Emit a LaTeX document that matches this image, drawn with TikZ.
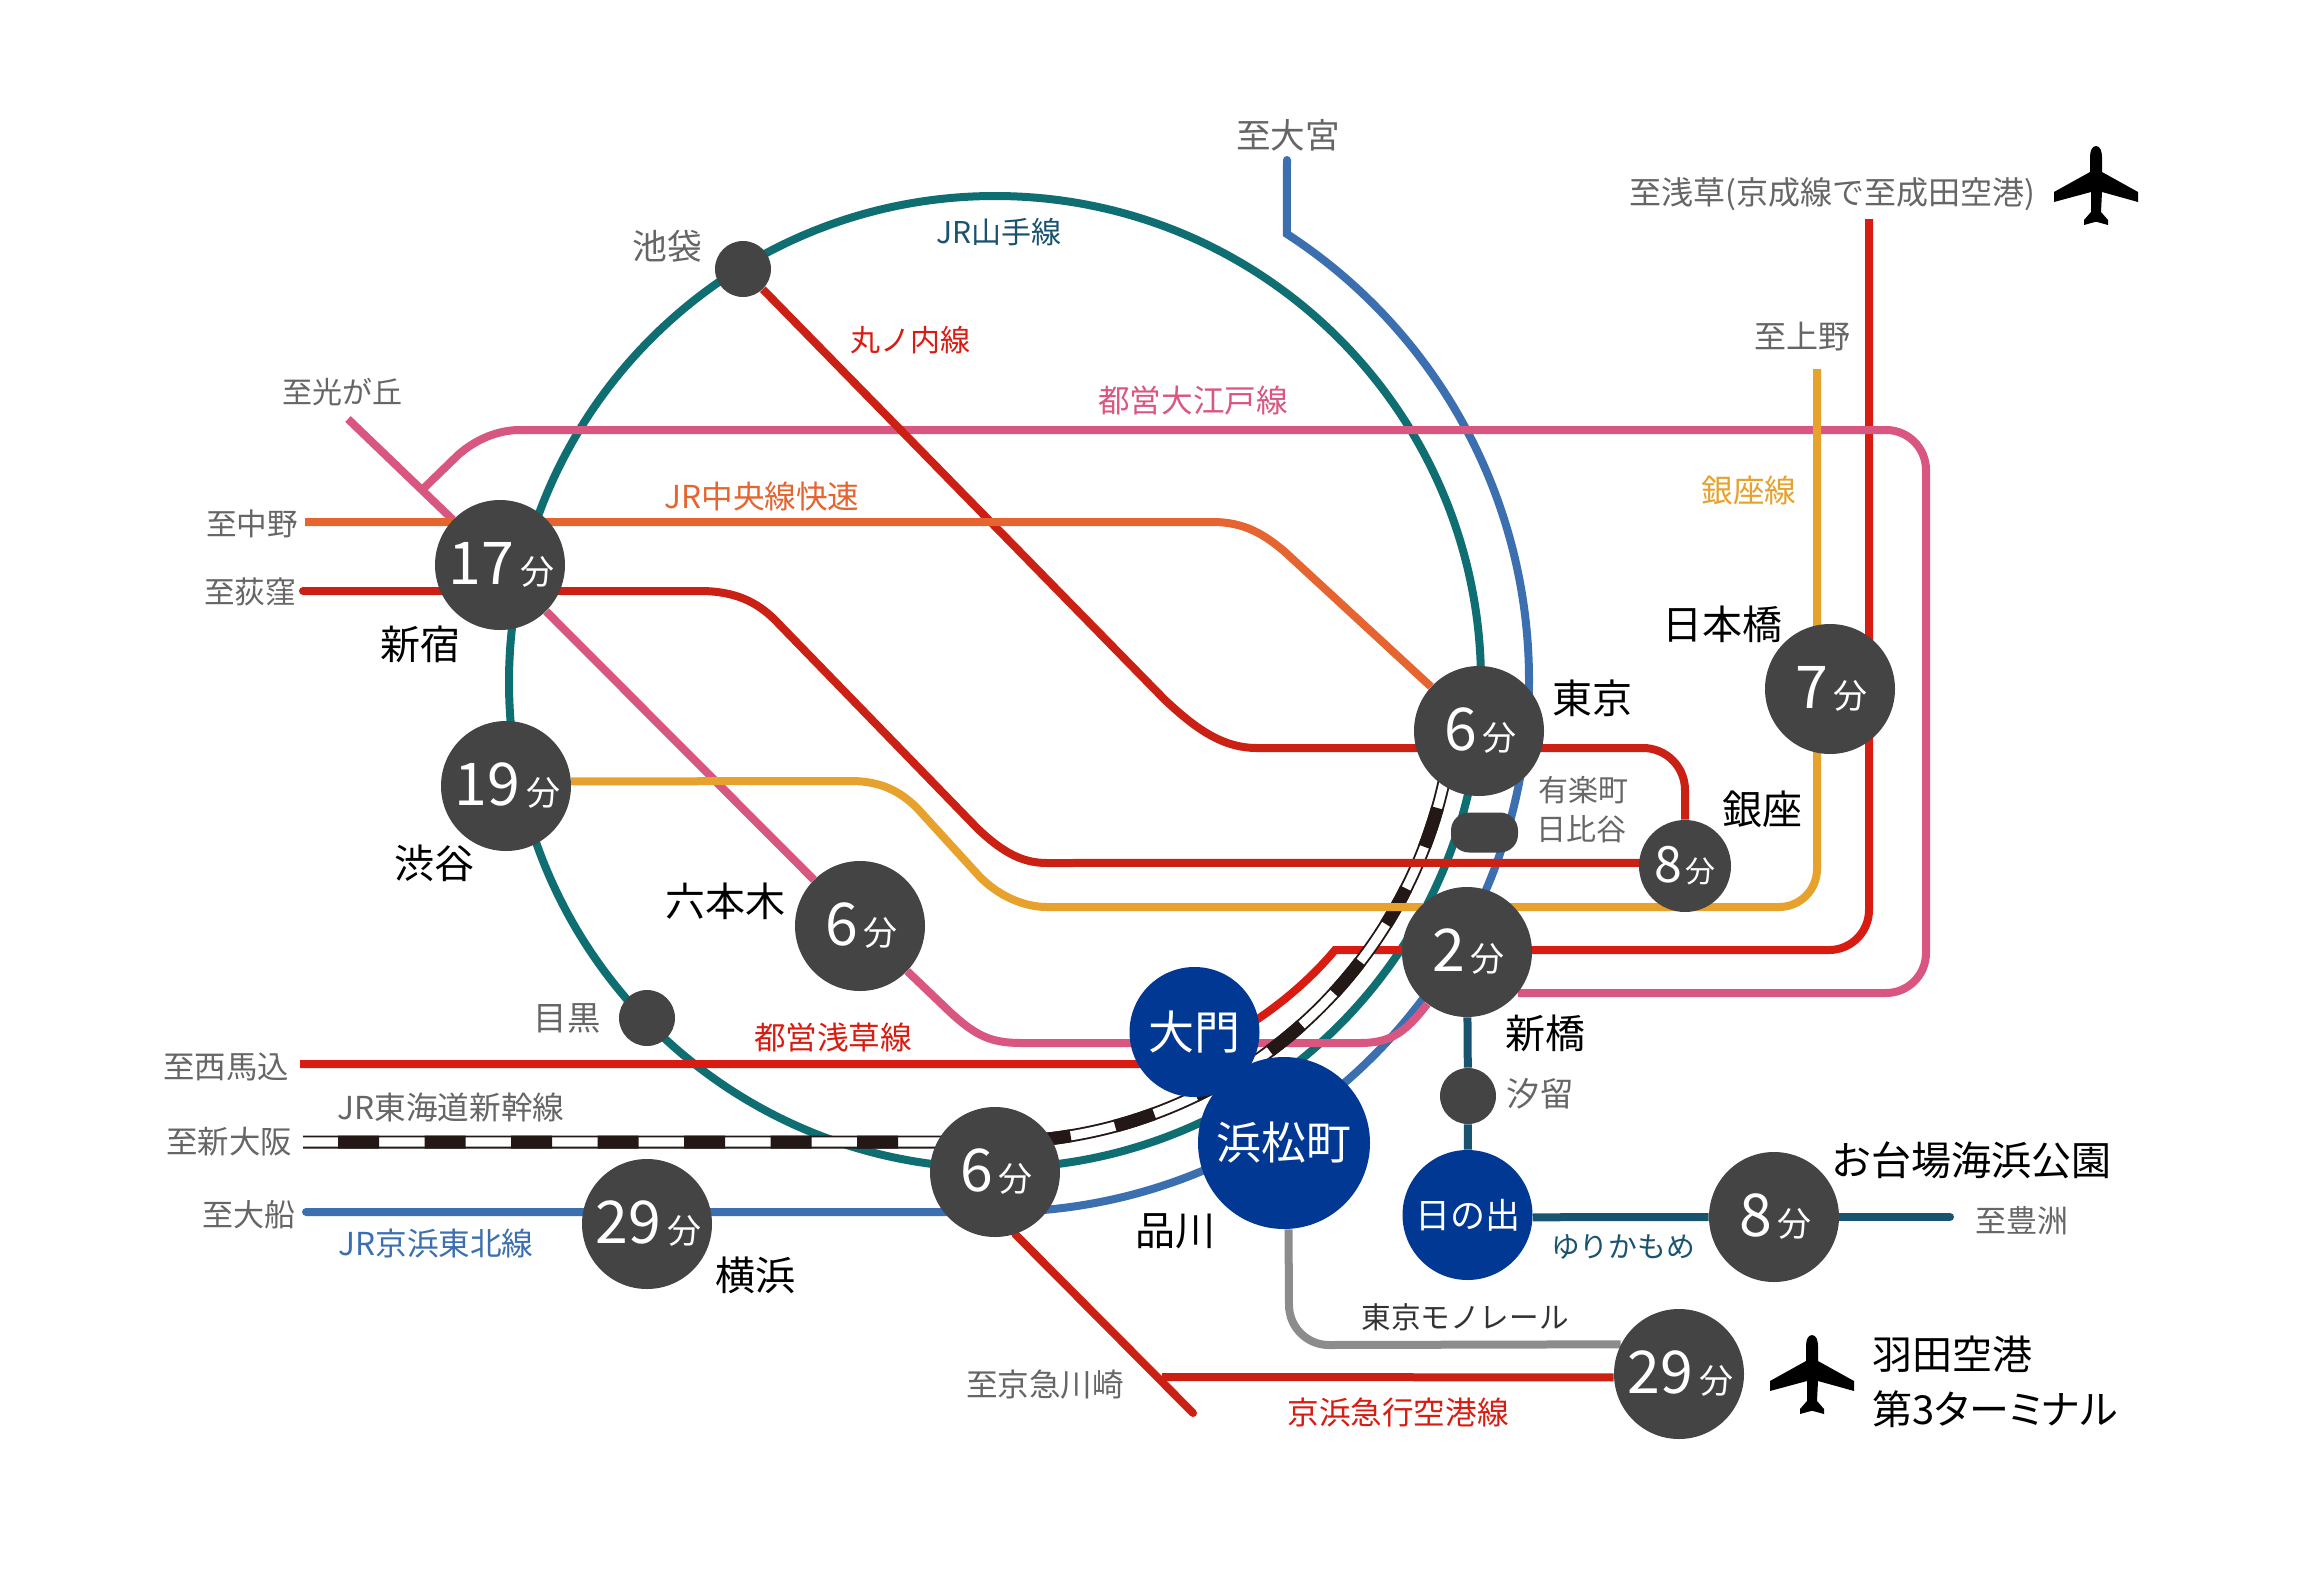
\documentclass[tikz,border=0pt]{standalone}
\usepackage{fontspec}
\setmainfont{Noto Sans CJK JP}
\newfontfamily\paltfont[RawFeature=+palt]{Noto Sans CJK JP}
\usetikzlibrary{backgrounds}
\definecolor{teal1}{HTML}{0F6E71}
\definecolor{blue1}{HTML}{3C6FB0}
\definecolor{pink1}{HTML}{D8567F}
\definecolor{orange1}{HTML}{E56430}
\definecolor{redA}{HTML}{CB2114}
\definecolor{redB}{HTML}{D91C12}
\definecolor{yellow1}{HTML}{E7A22D}
\definecolor{yuri}{HTML}{1A5370}
\definecolor{mono}{HTML}{8C8C8C}
\definecolor{navy1}{HTML}{003894}
\definecolor{stn}{HTML}{444444}
\definecolor{lblgrey}{HTML}{666666}
\definecolor{rail1}{HTML}{231815}
\newcommand{\fsz}[1]{\fontsize{#1}{#1}\selectfont}
\newcommand{\mymin}[1]{\hspace{1.5pt}{\fsz{29.5}#1}\hspace{3pt}{\fsz{17}分}}
\tikzset{
  station/.style={circle,fill=stn,text=white,inner sep=0pt,minimum size=65pt},
  hub/.style={circle,fill=navy1,text=white,inner sep=0pt,minimum size=65pt},
  dot/.style={circle,fill=stn,inner sep=0pt,minimum size=28pt},
  lg/.style={text=lblgrey,inner sep=0pt,font=\fsz{16}},
  bk/.style={text=black,inner sep=0pt,font=\fsz{20}},
  ln/.style={inner sep=0pt,font=\fsz{15.8}},
  rail/.style={line width=4pt},
  plane/.pic={\fill[black,yscale=-1] (0,0) .. controls (4,0) and (6,5) .. (6,11) -- (6,26) -- (42,46) -- (42,56) -- (6,46) -- (5,66) -- (12,74) -- (12,79) -- (0,75.7) -- (-12,79) -- (-12,74) -- (-5,66) -- (-5,46) -- (-42,56) -- (-42,46) -- (-6,26) -- (-6,11) .. controls (-6,5) and (-4,0) .. (0,0) -- cycle;}
}
\begin{document}
\begin{tikzpicture}[x=0.5pt,y=0.5pt,yscale=-1]
\useasboundingbox (0,0) rectangle (2320,1569);

% stations
\node[station] (shinjuku) at (500,565) {\mymin{17}};
\node[station] (shibuya) at (506,786) {\mymin{19}};
\node[station] (roppongi) at (860,926) {\mymin{6}};
\node[station] (tokyo) at (1479,731) {\mymin{6}};
\node[station] (shimbashi) at (1467,952) {\mymin{2}};
\node[station] (nihonbashi) at (1830,689) {\mymin{7}};
\node[station,minimum size=46pt] (ginza) at (1685,866) {{\fsz{25}8}\hspace{1.5pt}{\fsz{15}分}};
\node[station] (shinagawa) at (995,1172) {\mymin{6}};
\node[station] (yokohama) at (647,1224) {\mymin{29}};
\node[station] (odaiba) at (1774,1217) {\mymin{8}};
\node[station] (haneda) at (1679,1374) {\mymin{29}};
\node[dot] (ikebukuro) at (743,269) {};
\node[dot] (meguro) at (647,1018) {};
\node[dot] (shiodome) at (1468,1096) {};
\node[rectangle,rounded corners=9pt,fill=stn,minimum width=33.5pt,minimum height=20pt,inner sep=0pt] (hibiya) at (1484.5,832.5) {};
\node[hub] (daimon) at (1194.5,1032) {\fsz{23}大門};
\node[hub,minimum size=86pt] (hama) at (1284,1143) {\fsz{22.4}浜松町};
\node[hub] (hinode) at (1467.5,1215) {\fsz{17.5}日の出};

% free ends
\coordinate (omiya) at (1287,160);
\coordinate (ofuna) at (306,1212);
\coordinate (nakano) at (305,522);
\coordinate (ogikubo) at (303,591);
\coordinate (hikarigaoka) at (348,419);
\coordinate (oedojoin) at (422,490);
\coordinate (ueno) at (1817,369);
\coordinate (asakusa) at (1869,219);
\coordinate (nishimagome) at (300,1064);
\coordinate (shinosaka) at (303,1142);
\coordinate (hsrstart) at (338,1142);
\coordinate (toyosu) at (1950,1217);
\coordinate (kawasaki) at (1193,1413);
\coordinate (kkjoin) at (1162,1377);

\begin{pgfonlayer}{background}
\fill[white] (0,0) rectangle (2320,1569);
% JR Yamanote
\draw[rail,teal1] (995,682) circle[radius=486];
% JR Keihin-Tohoku
\draw[rail,blue1,line cap=round] (ofuna) -- (997,1212) arc[start angle=90,end angle=-57,radius=532] -- (omiya);
% Asakusa line
\draw[rail,redB] (nishimagome) -- (1140,1064) .. controls (1200,1064) and (1285,1010) .. (1335,950) -- (1829,950) arc[start angle=90,end angle=0,radius=40] -- (asakusa);
% Oedo line
\draw[rail,pink1] (hikarigaoka) -- (shinjuku);
\draw[rail,pink1] (shinjuku) -- (roppongi);
\draw[rail,pink1] (oedojoin) -- (458,455) .. controls (475,440) and (497,430) .. (520,430) -- (1886,430) arc[start angle=-90,end angle=0,radius=40] -- (1926,953) arc[start angle=0,end angle=90,radius=40] -- (shimbashi.-39);
\draw[rail,pink1] (roppongi) -- (950,1012) .. controls (975,1035) and (990,1043) .. (1021,1043) -- (1360,1043) .. controls (1390,1043) and (1405,1033) .. (shimbashi);
% Shinkansen
\draw[line width=6.5pt,rail1] (shinosaka) -- (995,1142) arc[start angle=90,end angle=11,radius=460];
\draw[line width=4.6pt,white] (shinosaka) -- (995,1142) arc[start angle=90,end angle=11,radius=460];
\draw[line width=6.5pt,rail1,dash pattern=on 20.5pt off 22.75pt] (hsrstart) -- (995,1142) arc[start angle=90,end angle=11,radius=460];
% Ginza line
\draw[rail,yellow1] (shibuya.4) -- (851,781) .. controls (880,781) and (900,791) .. (917,808) -- (980,877) .. controls (1000,897) and (1025,907) .. (1047,907) -- (1779,907) arc[start angle=90,end angle=0,radius=38] -- (ueno);
% Marunouchi
\draw[rail,redA,line cap=round] (ogikubo) -- (700,591) .. controls (735,591) and (757,602) .. (775,620) -- (977,828) .. controls (1005,855) and (1025,863) .. (1047,863) -- (ginza.176);
\draw[rail,redA] (ikebukuro) -- (1165,700) .. controls (1195,728) and (1222,748) .. (1257,748) -- (1643,748) arc[start angle=-90,end angle=0,radius=42] -- (ginza);
% Chuo
\draw[rail,orange1] (nakano) -- (1213,522) .. controls (1245,522) and (1265,535) .. (1285,552) -- (tokyo);
% Yurikamome
\draw[rail,yuri] (shimbashi) -- (shiodome);
\draw[rail,yuri] (shiodome) -- (hinode);
\draw[rail,yuri] (hinode.-2) -- (odaiba.180);
\draw[rail,yuri,line cap=round] (odaiba) -- (toyosu);
% Monorail
\draw[rail,mono] (hama.-87) -- (1289,1305) arc[start angle=180,end angle=90,radius=40] -- (haneda.153.5);
% Keikyu
\draw[rail,redA] (haneda.183) -- (kkjoin);
\draw[rail,redA,line cap=round] (shinagawa.-72) -- (kawasaki);
\end{pgfonlayer}

% planes
\pic at (2096,146) {plane};
\pic at (1812,1335) {plane};

% labels
\node[lg,font=\fsz{17.3}] (t1) at (1288,135) {至大宮};
\node[lg] (t2) at (1832,194) {至浅草(京成線で至成田空港)};
\node[lg] (t3) at (1802,337) {至上野};
\node[ln,text=yellow1] (t4) at (1749,491) {銀座線};
\node[bk] (t5) at (1592,698) {東京};
\node[bk] (t6) at (1722,624) {日本橋};
\node[bk] (t7) at (1762,809) {銀座};
\node[lg,font=\fsz{15}] (t8) at (1583,790) {有楽町};
\node[lg,font=\fsz{15}] (t9) at (1581,829) {日比谷};
\node[bk] (t10) at (1545,1033) {新橋};
\node[lg,font=\fsz{16.7}] (t11) at (1540,1094) {汐留};
\node[bk] (t12) at (1971,1160) {お台場海浜公園};
\node[lg,font=\fsz{15.5}] (t13) at (2022,1221) {至豊洲};
\node[ln,font=\fsz{14.4},text=yuri] (t14) at (1623,1247) {ゆりかもめ};
\node[bk] (t15) at (1175,1231) {品川};
\node[ln,font=\fsz{14.8},text=black!80] (t16) at (1465,1317) {東京モノレール};
\node[ln,text=redB] (t17) at (1398,1412) {京浜急行空港線};
\node[lg,font=\fsz{15.8}] (t18) at (1045,1385) {至京急川崎};
\node[bk,anchor=west] (t19) at (1872,1354) {羽田空港};
\node[bk,anchor=west] (t20) at (1872,1409) {\paltfont 第3ターミナル};
\node[bk] (t21) at (755,1275) {横浜};
\node[ln,text=blue1] (t22) at (436,1243) {JR京浜東北線};
\node[lg,font=\fsz{15.5}] (t23) at (249,1215) {至大船};
\node[lg,font=\fsz{15.8}] (t24) at (451,1108) {JR東海道新幹線};
\node[lg,font=\fsz{15.7}] (t25) at (229,1142) {至新大阪};
\node[lg,font=\fsz{15.7}] (t26) at (226,1067) {至西馬込};
\node[ln,text=redB] (t27) at (833,1037) {都営浅草線};
\node[lg,font=\fsz{16.7}] (t28) at (567,1018) {目黒};
\node[bk] (t29) at (725,901) {六本木};
\node[bk] (t30) at (434,863) {渋谷};
\node[bk] (t31) at (420,644) {新宿};
\node[lg,font=\fsz{15.3}] (t32) at (250,592) {至荻窪};
\node[lg,font=\fsz{15.3}] (t33) at (252,524) {至中野};
\node[lg,font=\fsz{15}] (t34) at (342,392) {至光が丘};
\node[ln,text=orange1] (t35) at (762,497) {JR中央線快速};
\node[ln,text=pink1] (t36) at (1193,401) {都営大江戸線};
\node[ln,font=\fsz{15},text=redB] (t37) at (910,340) {丸ノ内線};
\node[ln,font=\fsz{15},text=yuri] (t38) at (999,232) {JR山手線};
\node[lg,font=\fsz{17.4}] (t39) at (667,246) {池袋};
\end{tikzpicture}
\end{document}
